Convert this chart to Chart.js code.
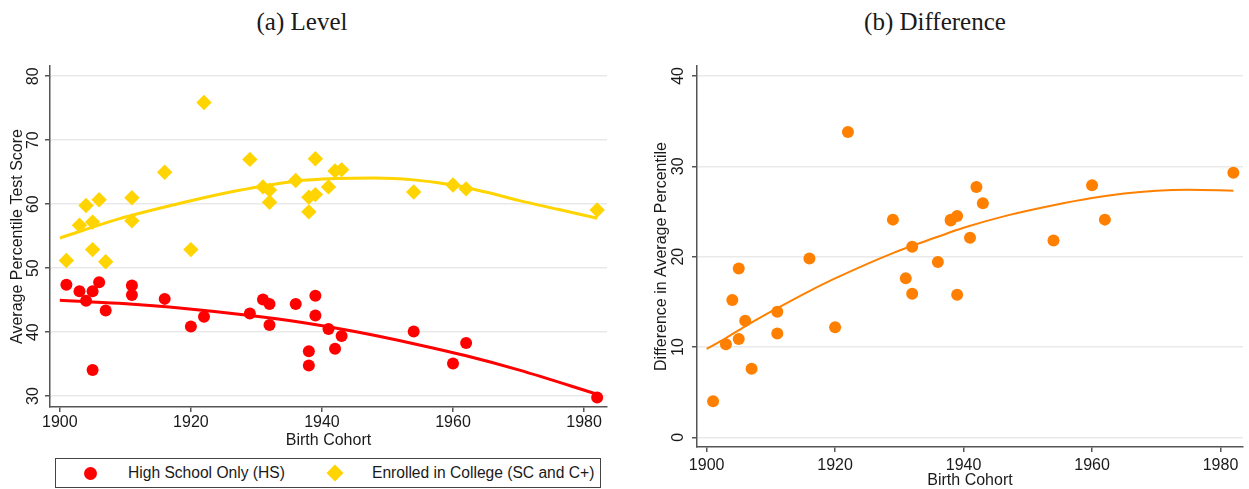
<!DOCTYPE html>
<html>
<head>
<meta charset="utf-8">
<script src="https://cdn.jsdelivr.net/npm/chart.js@4"></script>
<style>
  body { margin: 0; background: #fff; }
  #wrap { position: relative; width: 1249px; height: 489px; overflow: hidden; font-family: "Liberation Sans", Arial, sans-serif; color: #1a1a1a; }
  .title { position: absolute; top: 8px; font-family: "Liberation Serif", "Times New Roman", serif; font-size: 25px; text-align: center; white-space: nowrap; }
  canvas { position: absolute; top: 0; }
  #legend { position: absolute; left: 55px; top: 458px; width: 546px; height: 30px; border: 1px solid #444; box-sizing: border-box; font-size: 15.6px; white-space: nowrap; }
  #legend span { position: absolute; }
  .dot { width: 13px; height: 13px; border-radius: 50%; background: #ff0000; }
  .dia { width: 12px; height: 12px; background: #ffd400; transform: rotate(45deg); }
</style>
</head>
<body>
<div id="wrap">
  <div class="title" style="left:0;width:604px;">(a) Level</div>
  <div class="title" style="left:785px;width:300px;">(b) Difference</div>
  <canvas id="levelChart" width="620" height="450" style="left:0"></canvas>
  <canvas id="diffChart" width="609" height="489" style="left:640px"></canvas>
  <div id="legend">
    <span class="dot" style="left:28px;top:8px"></span>
    <span style="left:72px;top:5px">High School Only (HS)</span>
    <span class="dia" style="left:273px;top:8px"></span>
    <span style="left:316px;top:5px">Enrolled in College (SC and C+)</span>
  </div>
</div>
<script>
// cohort of each survey point (same order for all three series)
const cohortYears = [1901, 1903, 1904, 1905, 1905, 1906, 1907, 1911, 1911, 1916, 1920, 1922, 1929, 1931,
                     1932, 1932, 1936, 1938, 1938, 1939, 1939, 1941, 1942, 1943, 1954, 1960, 1962, 1982];
const hsScores = [47.4, 46.4, 44.9, 46.4, 34.1, 47.8, 43.4, 47.3, 45.8, 45.2, 40.9, 42.4, 42.9, 45.1,
                  44.4, 41.1, 44.4, 37.0, 34.8, 45.7, 42.6, 40.5, 37.4, 39.4, 40.1, 35.1, 38.3, 29.8];
const collegeScores = [51.2, 56.7, 59.8, 57.2, 52.9, 60.7, 51.0, 61.0, 57.4, 65.0, 52.9, 75.9, 67.0, 62.7,
                       60.3, 62.2, 63.7, 61.1, 58.8, 61.5, 67.1, 62.7, 65.2, 65.4, 61.9, 63.0, 62.4, 59.1];
const scoreGaps = [4.0, 10.3, 15.2, 10.9, 18.7, 12.9, 7.6, 13.9, 11.5, 19.8, 12.2, 33.8, 24.1, 17.6,
                   15.9, 21.1, 19.4, 24.0, 24.1, 15.8, 24.5, 22.1, 27.7, 25.9, 21.8, 27.9, 24.1, 29.3];

// fitted curves
const hsFitYears = [1900, 1909, 1919, 1929, 1937, 1945, 1954, 1962, 1970, 1982];
const hsFit = [45.0, 44.5, 43.7, 42.6, 41.5, 40.1, 38.2, 36.3, 34.1, 30.3];
const collegeFitYears = [1900, 1909, 1919, 1927, 1936, 1942, 1948, 1954, 1960, 1965, 1970, 1976, 1982];
const collegeFit = [54.7, 57.7, 60.3, 62.1, 63.6, 64.0, 64.1, 63.8, 63.0, 61.9, 60.6, 59.2, 57.8];
const gapFitYears = [1900, 1903, 1906, 1911, 1916, 1920, 1929, 1936, 1940, 1947, 1954, 1960, 1965, 1970, 1975, 1982];
const gapFit = [9.8, 11.0, 12.3, 14.3, 16.2, 17.6, 20.4, 22.2, 23.2, 24.6, 25.7, 26.5, 27.0, 27.3, 27.4, 27.3];

const xTicks = [1900, 1920, 1940, 1960, 1980];
const levelTicks = [30, 40, 50, 60, 70, 80];
const gapTicks = [0, 10, 20, 30, 40];

Chart.defaults.font.family = '"Liberation Sans", Arial, sans-serif';
Chart.defaults.font.size = 16;
Chart.defaults.color = '#1a1a1a';

const toPoints = (xs, ys) => xs.map((x, i) => ({ x: x, y: ys[i] }));

// y tick labels are drawn turned on their side, like Stata does
const rotatedYLabels = {
    id: 'rotatedYLabels',
    afterDraw(chart, args, opts) {
        const scale = chart.scales.y;
        const ctx = chart.ctx;
        ctx.save();
        ctx.font = '16px "Liberation Sans", Arial, sans-serif';
        ctx.fillStyle = '#1a1a1a';
        ctx.textAlign = 'center';
        ctx.textBaseline = 'alphabetic';
        scale.ticks.forEach(t => {
            ctx.save();
            ctx.translate(scale.right - opts.gap, scale.getPixelForValue(t.value));
            ctx.rotate(-Math.PI / 2);
            ctx.fillText(String(t.value), 0, 0);
            ctx.restore();
        });
        ctx.restore();
    }
};

function axes(opts) {
    return {
        x: {
            type: 'linear', min: 1898.5, max: 1983.5,
            afterBuildTicks: s => { s.ticks = xTicks.map(v => ({ value: v })); },
            afterFit: s => { s.height = opts.xHeight; },
            ticks: { padding: opts.xPad, callback: v => String(v) },
            grid: { drawOnChartArea: false, drawTicks: true, tickLength: 5, tickColor: '#555', lineWidth: 1.5 },
            border: { display: true, color: '#555', width: 1.5 },
            title: { display: true, text: 'Birth Cohort', font: { size: 16, lineHeight: 1 }, padding: 0 }
        },
        y: {
            type: 'linear', min: opts.yMin, max: opts.yMax,
            afterBuildTicks: s => { s.ticks = opts.yTicks.map(v => ({ value: v })); },
            afterFit: s => { s.width = opts.yWidth; },
            ticks: { display: false },
            grid: { color: '#e9e9e9', lineWidth: 1.5, drawTicks: true, tickLength: 5, tickColor: '#555' },
            border: { display: true, color: '#555', width: 1.5 },
            title: { display: true, text: opts.yTitle, font: { size: 16, lineHeight: 1 }, padding: { top: opts.yTitlePad } }
        }
    };
}

const fitLine = { showLine: true, pointRadius: 0, cubicInterpolationMode: 'monotone' };

new Chart(document.getElementById('levelChart'), {
    type: 'scatter',
    data: {
        datasets: [
            { label: 'High School Only (HS)', data: toPoints(cohortYears, hsScores),
              backgroundColor: '#ff0000', borderWidth: 0, pointRadius: 6, pointStyle: 'circle' },
            { label: 'Enrolled in College (SC and C+)', data: toPoints(cohortYears, collegeScores),
              backgroundColor: '#ffd400', borderWidth: 0, pointRadius: 7.7, pointStyle: 'rectRot' },
            { ...fitLine, label: 'HS fit', data: toPoints(hsFitYears, hsFit),
              borderColor: '#ff0000', borderWidth: 3 },
            { ...fitLine, label: 'College fit', data: toPoints(collegeFitYears, collegeFit),
              borderColor: '#ffd400', borderWidth: 3 }
        ]
    },
    options: {
        responsive: false,
        animation: false,
        layout: { padding: { left: 0, top: 66, right: 13, bottom: 1 } },
        scales: axes({ yMin: 28.3, yMax: 81.6, yTicks: levelTicks, yWidth: 50, xHeight: 42, xPad: 1,
                       yTitle: 'Average Percentile Test Score', yTitlePad: 10 }),
        plugins: { legend: { display: false }, tooltip: { enabled: false }, rotatedYLabels: { gap: 12 } }
    },
    plugins: [rotatedYLabels]
});

new Chart(document.getElementById('diffChart'), {
    type: 'scatter',
    data: {
        datasets: [
            { label: 'Difference', data: toPoints(cohortYears, scoreGaps),
              backgroundColor: '#ff8000', borderWidth: 0, pointRadius: 6, pointStyle: 'circle' },
            { ...fitLine, label: 'Fit', data: toPoints(gapFitYears, gapFit),
              borderColor: '#ff8000', borderWidth: 2 }
        ]
    },
    options: {
        responsive: false,
        animation: false,
        layout: { padding: { left: 0, top: 66, right: 4, bottom: 0 } },
        scales: axes({ yMin: -1.06, yMax: 41.1, yTicks: gapTicks, yWidth: 57, xHeight: 42, xPad: 4,
                       yTitle: 'Difference in Average Percentile', yTitlePad: 14 }),
        plugins: { legend: { display: false }, tooltip: { enabled: false }, rotatedYLabels: { gap: 14 } }
    },
    plugins: [rotatedYLabels]
});
</script>
</body>
</html>
